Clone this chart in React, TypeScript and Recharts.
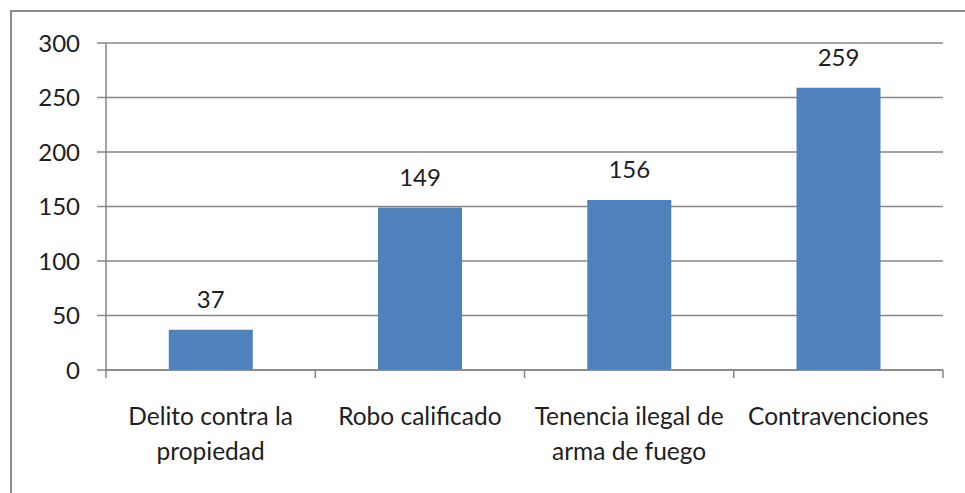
import React from "react";
import { BarChart, Bar, XAxis, YAxis, CartesianGrid, LabelList } from "recharts";

const categories = [
  "Delito contra la propiedad",
  "Robo calificado",
  "Tenencia ilegal de arma de fuego",
  "Contravenciones",
];
const tickLines = [
  ["Delito contra la", "propiedad"],
  ["Robo calificado"],
  ["Tenencia ilegal de", "arma de fuego"],
  ["Contravenciones"],
];
const counts = [37, 149, 156, 259];
const yTicks = [0, 50, 100, 150, 200, 250, 300];

const data = categories.map((name, i) => ({ name, value: counts[i], lines: tickLines[i] }));

const FONT = "Lato, 'Open Sans', sans-serif";
const AXIS_GRAY = "#868686";
const TEXT = "#1e1e1e";

const CategoryTick = (props: any) => {
  const { x, y, payload, index } = props;
  const half = payload.offset || 0;
  const lines = tickLines[index] || [String(payload.value)];
  const isLast = index === categories.length - 1;
  return (
    <g>
      <line x1={x - half} y1={y - 8} x2={x - half} y2={y} stroke={AXIS_GRAY} strokeWidth={1.5} />
      {isLast && <line x1={x + half} y1={y - 8} x2={x + half} y2={y} stroke={AXIS_GRAY} strokeWidth={1.5} />}
      {lines.map((t: string, k: number) => (
        <text key={k} x={x} y={y + 47 + k * 35} textAnchor="middle" fontSize={24.5} fill={TEXT} fontFamily={FONT}>
          {t}
        </text>
      ))}
    </g>
  );
};

export default function App() {
  return (
    <div style={{ position: "absolute", left: 0, top: 0, width: 965, height: 493, background: "#fff", overflow: "hidden" }}>
      <div
        style={{
          position: "absolute",
          left: 10,
          top: 10,
          width: 980,
          height: 520,
          border: "2px solid #8c8c8c",
          boxSizing: "border-box",
        }}
      />
      <BarChart
        width={965}
        height={493}
        data={data}
        margin={{ top: 43, right: 22, left: 0, bottom: 0 }}
        barCategoryGap="30%"
      >
        <CartesianGrid horizontal vertical={false} stroke={AXIS_GRAY} strokeWidth={1.5} />
        <XAxis
          dataKey="name"
          height={123}
          axisLine={{ stroke: AXIS_GRAY, strokeWidth: 1.5 }}
          tickLine={false}
          tick={<CategoryTick />}
          interval={0}
        />
        <YAxis
          width={106}
          domain={[0, 300]}
          ticks={yTicks}
          interval={0}
          axisLine={{ stroke: AXIS_GRAY, strokeWidth: 1.5 }}
          tickLine={{ stroke: AXIS_GRAY, strokeWidth: 1.5 }}
          tickSize={9}
          tickMargin={17}
          tick={{ fontSize: 24, fill: TEXT, fontFamily: FONT }}
        />
        <Bar dataKey="value" fill="#4F81BD" isAnimationActive={false}>
          <LabelList
            dataKey="value"
            position="top"
            offset={22}
            style={{ fontSize: 24, fill: TEXT, fontFamily: FONT }}
          />
        </Bar>
      </BarChart>
    </div>
  );
}
